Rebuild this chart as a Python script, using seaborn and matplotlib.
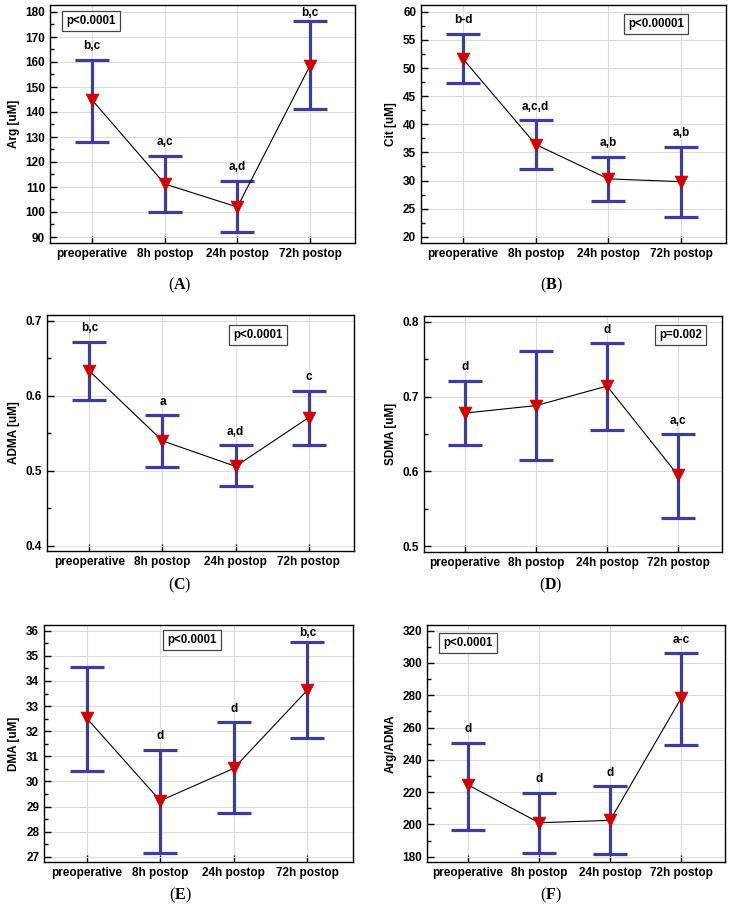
import numpy as np
import pandas as pd
import matplotlib
matplotlib.use("Agg")
import matplotlib.pyplot as plt
import seaborn as sns
from matplotlib.ticker import MultipleLocator

sns.set_style("ticks")
plt.rcParams['font.family'] = ['Liberation Sans', 'DejaVu Sans']
plt.rcParams['mathtext.fontset'] = 'custom'
plt.rcParams['mathtext.rm'] = 'Liberation Serif'
plt.rcParams['mathtext.bf'] = 'Liberation Serif:bold'
for key in ['text.color', 'axes.labelcolor', 'xtick.color', 'ytick.color', 'axes.edgecolor']:
    plt.rcParams[key] = 'black'

# categories on the x axis
timepoints = ["preoperative", "8h postop", "24h postop", "72h postop"]

# (A) Arg
arg_mean = [144.8, 111.2, 102.0, 158.5]
arg_low = [128.1, 100.0, 92.0, 141.2]
arg_high = [160.8, 122.5, 112.4, 176.4]
arg_letters = ["b,c", "a,c", "a,d", "b,c"]

# (B) Cit
cit_mean = [51.6, 36.4, 30.3, 29.8]
cit_low = [47.3, 32.1, 26.4, 23.6]
cit_high = [56.1, 40.7, 34.2, 36.0]
cit_letters = ["b-d", "a,c,d", "a,b", "a,b"]

# (C) ADMA
adma_mean = [0.633, 0.540, 0.506, 0.571]
adma_low = [0.595, 0.505, 0.480, 0.534]
adma_high = [0.672, 0.574, 0.534, 0.607]
adma_letters = ["b,c", "a", "a,d", "c"]

# (D) SDMA
sdma_mean = [0.678, 0.688, 0.714, 0.595]
sdma_low = [0.636, 0.615, 0.655, 0.538]
sdma_high = [0.721, 0.761, 0.771, 0.650]
sdma_letters = ["d", "", "d", "a,c"]

# (E) DMA
dma_mean = [32.52, 29.23, 30.52, 33.64]
dma_low = [30.40, 27.13, 28.73, 31.71]
dma_high = [34.57, 31.26, 32.35, 35.55]
dma_letters = ["", "d", "d", "b,c"]

# (F) Arg/ADMA
ratio_mean = [224.4, 201.0, 202.5, 278.0]
ratio_low = [196.5, 182.5, 181.7, 249.2]
ratio_high = [250.6, 219.6, 223.6, 306.0]
ratio_letters = ["d", "d", "d", "a-c"]

panels = [
    ("A", "Arg [uM]", "p<0.0001", arg_mean, arg_low, arg_high, arg_letters),
    ("B", "Cit [uM]", "p<0.00001", cit_mean, cit_low, cit_high, cit_letters),
    ("C", "ADMA [uM]", "p<0.0001", adma_mean, adma_low, adma_high, adma_letters),
    ("D", "SDMA [uM]", "p=0.002", sdma_mean, sdma_low, sdma_high, sdma_letters),
    ("E", "DMA [uM]", "p<0.0001", dma_mean, dma_low, dma_high, dma_letters),
    ("F", "Arg/ADMA", "p<0.0001", ratio_mean, ratio_low, ratio_high, ratio_letters),
]

# layout in pixels: axes box (left, right, top, bottom), y limits, tick steps,
# p-box position (axes fraction), caption centre
W, H = 735, 918
layout = {
    "A": dict(box=(50, 355, 5, 243), ylim=(87.6, 182.8), major=10, minor=5, pbox=(0.134, 0.933), cap=(180, 285)),
    "B": dict(box=(421, 726, 5, 243), ylim=(18.9, 61.2), major=5, minor=2.5, pbox=(0.770, 0.920), cap=(551, 285)),
    "C": dict(box=(47, 354, 315, 551), ylim=(0.3933, 0.7076), major=0.1, minor=0.05, pbox=(0.687, 0.915), cap=(180, 585)),
    "D": dict(box=(424, 722, 316, 552), ylim=(0.4925, 0.8076), major=0.1, minor=0.05, pbox=(0.862, 0.919), cap=(551, 585)),
    "E": dict(box=(44, 353, 625, 862), ylim=(26.79, 36.23), major=1, minor=0.5, pbox=(0.479, 0.937), cap=(180, 895)),
    "F": dict(box=(427, 725, 625, 862), ylim=(176.7, 323.5), major=20, minor=10, pbox=(0.138, 0.924), cap=(551, 895)),
}

bar_color = "#3d3d9e"
tri_color = "#d00000"

fig = plt.figure(figsize=(W / 100, H / 100), dpi=100)

for tag, ylab, ptxt, mean, low, high, letters in panels:
    lay = layout[tag]
    l, r, t, b = lay["box"]
    ax = fig.add_axes([l / W, 1 - b / H, (r - l) / W, (b - t) / H])
    df = pd.DataFrame({"pos": np.arange(len(timepoints)), "mean": mean, "low": low, "high": high})

    ax.set_xlim(-0.58, 3.62)
    ax.set_ylim(*lay["ylim"])
    ax.yaxis.set_major_locator(MultipleLocator(lay["major"]))
    ax.yaxis.set_minor_locator(MultipleLocator(lay["minor"]))
    ax.set_xticks(df["pos"])
    ax.set_xticklabels(timepoints)
    ax.grid(True, which="major", color="#dcdcdc", lw=0.8)
    ax.set_axisbelow(True)

    ax.errorbar(df["pos"], df["mean"],
                yerr=[df["mean"] - df["low"], df["high"] - df["mean"]],
                fmt="none", ecolor=bar_color, elinewidth=2.3, capsize=12, capthick=2.3, zorder=2)
    sns.lineplot(data=df, x="pos", y="mean", color="black", lw=0.8, ax=ax, zorder=3)
    sns.scatterplot(data=df, x="pos", y="mean", marker="v", s=85, color=tri_color,
                    edgecolor=tri_color, linewidth=0.5, ax=ax, zorder=4)

    # significance letters above the caps, kept inside the frame
    top_px = ax.transData.transform((0, lay["ylim"][1]))[1]
    inv = ax.transData.inverted()
    for i, txt in enumerate(letters):
        if not txt:
            continue
        px = ax.transData.transform((i, high[i]))
        ypx = min(px[1] + 13.5, top_px - 8)
        ty = inv.transform((px[0], ypx))[1]
        ax.text(i, ty, txt, ha="center", va="center", fontsize=8.5, fontweight="bold")

    ax.text(*lay["pbox"], ptxt, transform=ax.transAxes, ha="center", va="center",
            fontsize=8.3, fontweight="bold",
            bbox=dict(boxstyle="square,pad=0.35", fc="white", ec="#444444", lw=0.9))

    ax.set_xlabel("")
    ax.set_ylabel(ylab, fontsize=8.5, fontweight="bold", labelpad=4)
    ax.tick_params(axis="both", which="both", direction="in", labelsize=8.5, width=1.0)
    ax.tick_params(axis="both", which="major", length=5)
    ax.tick_params(axis="y", which="minor", length=3)
    for lbl in ax.get_xticklabels() + ax.get_yticklabels():
        lbl.set_fontweight("bold")
    for sp in ax.spines.values():
        sp.set_visible(True)
        sp.set_linewidth(1.0)
        sp.set_color("black")

    cx, cy = lay["cap"]
    fig.text(cx / W, 1 - cy / H, r"($\mathbf{" + tag + r"}$)", ha="center", va="center",
             fontsize=11.5, family="Liberation Serif")

fig.savefig("out.png", dpi=100)
